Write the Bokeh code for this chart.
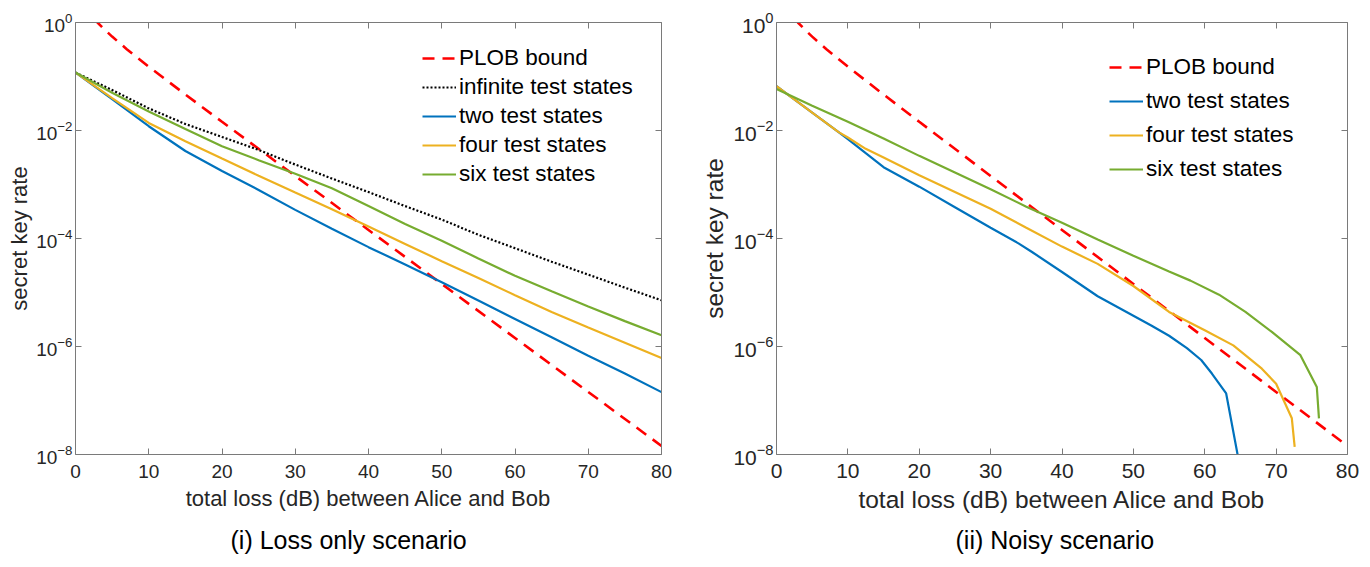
from bokeh.plotting import figure
from bokeh.models import (Range1d, FixedTicker, LogTickFormatter, LinearAxis, LogAxis,
                          Legend, LegendItem, Title, CustomJSTickFormatter)
from bokeh.layouts import row
from bokeh.embed import file_html
from bokeh.resources import INLINE

# ---------------- data ----------------
x_ticks = [0, 10, 20, 30, 40, 50, 60, 70, 80]
y_ticks = [1e-8, 1e-6, 1e-4, 1e-2, 1e0]

# PLOB bound (same in both panels)
plob_loss = [2.5, 3, 4, 5, 7, 10, 15, 20, 30, 40, 50, 60, 70, 80]
plob_rate = [1.19, 1.0, 0.732, 0.548, 0.321, 0.152, 4.64e-2, 1.45e-2, 1.44e-3,
             1.44e-4, 1.44e-5, 1.44e-6, 1.44e-7, 1.44e-8]

# (i) Loss only scenario
loss_i = [0, 5, 10, 15, 20, 25, 30, 35, 40, 45, 50, 55, 60, 65, 70, 75, 80]
inf_i = [0.1183, 5.62e-2, 2.57e-2, 1.32e-2, 7.59e-3, 4.37e-3, 2.34e-3, 1.29e-3, 7.24e-4,
         3.98e-4, 2.24e-4, 1.17e-4, 6.61e-5, 3.72e-5, 2.14e-5, 1.23e-5, 7.16e-6]
two_i = [0.1183, 3.80e-2, 1.20e-2, 4.17e-3, 1.78e-3, 7.94e-4, 3.39e-4, 1.51e-4, 6.92e-5,
         3.31e-5, 1.55e-5, 7.08e-6, 3.24e-6, 1.48e-6, 6.76e-7, 3.16e-7, 1.43e-7]
four_i = [0.1183, 3.98e-2, 1.38e-2, 6.31e-3, 3.02e-3, 1.45e-3, 7.08e-4, 3.47e-4, 1.66e-4,
          7.94e-5, 3.80e-5, 1.86e-5, 8.91e-6, 4.37e-6, 2.24e-6, 1.17e-6, 6.10e-7]
six_i = [0.1183, 5.01e-2, 2.24e-2, 1.07e-2, 5.13e-3, 2.82e-3, 1.58e-3, 8.51e-4, 3.98e-4,
         1.86e-4, 9.12e-5, 4.27e-5, 2.04e-5, 1.05e-5, 5.50e-6, 2.95e-6, 1.62e-6]

# (ii) Noisy scenario
two_ii_loss = [0, 5, 8.7, 10, 12.5, 15, 20, 25, 30, 33.9, 35.8, 40, 45, 50, 52.5, 55,
               57.5, 59.5, 61, 63, 64.6, 64.9]
two_ii = [6.61e-2, 2.14e-2, 9.33e-3, 6.92e-3, 3.80e-3, 2.09e-3, 9.12e-4, 3.80e-4, 1.58e-4,
          8.13e-5, 5.62e-5, 2.40e-5, 8.51e-6, 3.72e-6, 2.45e-6, 1.58e-6, 9.33e-7, 5.62e-7,
          3.16e-7, 1.35e-7, 1.0e-8, 6.2e-9]
four_ii_loss = [0, 5, 8.7, 10, 12.5, 15, 20, 25, 30, 35, 40, 45, 50, 55, 60, 64, 68, 70,
                72.2, 72.6]
four_ii = [6.61e-2, 2.14e-2, 9.33e-3, 7.41e-3, 4.57e-3, 3.16e-3, 1.48e-3, 7.24e-4, 3.55e-4,
           1.58e-4, 7.08e-5, 3.39e-5, 1.32e-5, 4.37e-6, 2.00e-6, 1.05e-6, 3.89e-7, 2.04e-7,
           4.68e-8, 1.38e-8]
six_ii_loss = [0, 5, 10, 15, 20, 25, 30, 35, 40, 45, 50, 55, 58, 62, 65.7, 69.4, 73.4,
               75.7, 76.0]
six_ii = [5.89e-2, 2.88e-2, 1.45e-2, 7.08e-3, 3.39e-3, 1.66e-3, 8.13e-4, 3.89e-4, 1.95e-4,
          9.55e-5, 4.79e-5, 2.45e-5, 1.66e-5, 9.12e-6, 4.37e-6, 1.86e-6, 6.92e-7, 1.78e-7,
          4.68e-8]

labels = {"plob": "PLOB bound", "inf": "infinite test states", "two": "two test states",
          "four": "four test states", "six": "six test states"}

# ---------------- style ----------------
FONT = "Liberation Sans"
AXC = "#7a7a7a"
TXT = "#262626"
C_RED = "#FF0000"
C_BLUE = "#0072BD"
C_ORANGE = "#EDB120"
C_GREEN = "#77AC30"


def make_panel(fw, fh, mb_left, mb_right, mb_top, mb_bottom, tick_fs, label_fs,
               x_lab_standoff, x_axlab_standoff, y_axlab_standoff, caption, cap_offset,
               cap_standoff, series, legend_loc, legend_spacing):
    p = figure(frame_width=fw, frame_height=fh, output_backend="svg",
               toolbar_location=None, y_axis_type="log", x_range=Range1d(0, 80),
               y_range=Range1d(1e-8, 1), min_border_left=mb_left,
               min_border_right=mb_right, min_border_top=mb_top,
               min_border_bottom=mb_bottom)
    p.outline_line_color = None
    p.background_fill_color = "white"
    p.border_fill_color = "white"
    p.xgrid.visible = False
    p.ygrid.visible = False

    xa = p.xaxis[0]
    xa.ticker = FixedTicker(ticks=x_ticks, minor_ticks=[])
    ya = p.yaxis[0]
    ya.ticker = FixedTicker(ticks=y_ticks, minor_ticks=[])
    ya.formatter = LogTickFormatter()
    for ax in (xa, ya):
        ax.axis_line_color = AXC
        ax.major_tick_line_color = AXC
        ax.major_tick_in = 6
        ax.major_tick_out = 0
        ax.minor_tick_line_color = None
        ax.major_label_text_font = FONT
        ax.major_label_text_font_size = tick_fs
        ax.major_label_text_color = TXT
        ax.axis_label_text_font = FONT
        ax.axis_label_text_font_size = label_fs
        ax.axis_label_text_font_style = "normal"
        ax.axis_label_text_color = TXT
    xa.axis_label = "total loss (dB) between Alice and Bob"
    ya.axis_label = "secret key rate"
    xa.major_label_standoff = x_lab_standoff
    xa.axis_label_standoff = x_axlab_standoff
    ya.major_label_standoff = 3
    ya.axis_label_standoff = y_axlab_standoff

    blank = CustomJSTickFormatter(code="return ''")
    top = LinearAxis(ticker=FixedTicker(ticks=x_ticks, minor_ticks=[]), formatter=blank,
                     axis_line_color=AXC, major_tick_line_color=AXC, major_tick_in=6,
                     major_tick_out=0, minor_tick_line_color=None,
                     major_label_text_font_size="1px", major_label_standoff=0)
    right = LogAxis(ticker=FixedTicker(ticks=y_ticks, minor_ticks=[]), formatter=blank,
                    axis_line_color=AXC, major_tick_line_color=AXC, major_tick_in=6,
                    major_tick_out=0, minor_tick_line_color=None,
                    major_label_text_font_size="1px", major_label_standoff=0)
    p.add_layout(top, "above")
    p.add_layout(right, "right")

    items = []
    for key, xs, ys, color, dash, lw in series:
        r = p.line(xs, ys, line_color=color, line_width=lw, line_dash=dash)
        items.append(LegendItem(label=labels[key], renderers=[r]))

    leg = Legend(items=items, location=legend_loc, glyph_width=34, glyph_height=26,
                 label_height=26, label_standoff=3, spacing=legend_spacing, padding=0,
                 margin=0, border_line_color=None, background_fill_alpha=0,
                 label_text_font=FONT, label_text_font_size="22.5px",
                 label_text_color="black")
    p.add_layout(leg)

    cap = Title(text=caption, align="left", offset=cap_offset, standoff=cap_standoff,
                text_font=FONT, text_font_size="25px", text_font_style="normal",
                text_color="black")
    p.add_layout(cap, "below")
    return p


series_i = [
    ("plob", plob_loss, plob_rate, C_RED, "12 8", 2.6),
    ("inf", loss_i, inf_i, "black", "2 2", 2.2),
    ("two", loss_i, two_i, C_BLUE, "solid", 2.2),
    ("four", loss_i, four_i, C_ORANGE, "solid", 2.2),
    ("six", loss_i, six_i, C_GREEN, "solid", 2.2),
]
series_ii = [
    ("plob", plob_loss, plob_rate, C_RED, "12 8", 2.6),
    ("two", two_ii_loss, two_ii, C_BLUE, "solid", 2.2),
    ("four", four_ii_loss, four_ii, C_ORANGE, "solid", 2.2),
    ("six", six_ii_loss, six_ii, C_GREEN, "solid", 2.2),
]

# left panel: 75 + 586 + 37 = 698 wide, 21 + 432 + 114 = 567 tall
p1 = make_panel(586, 432, 75, 37, 21, 114, "19px", "22px", 10, 5, 1,
                "(i) Loss only scenario", 155, 20, series_i, (347, 267), 3)
# right panel: 76 + 571 + 23 = 670 wide, 22 + 432 + 113 = 567 tall
p2 = make_panel(571, 432, 76, 23, 22, 113, "21px", "24.5px", 9, 5, 2,
                "(ii) Noisy scenario", 179, 16, series_ii, (333, 272), 8)

layout = row(p1, p2)
open("out.html", "w").write(file_html(layout, INLINE))
